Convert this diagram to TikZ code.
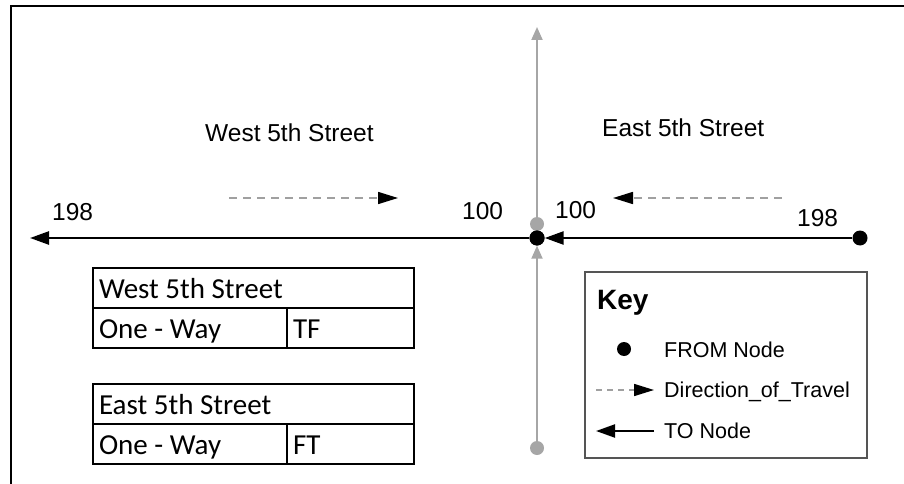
\documentclass[tikz,border=0pt]{standalone}
\usepackage{fontspec}
\setmainfont{Liberation Sans}
\newfontfamily\calfont{Carlito}
\usetikzlibrary{arrows.meta}
\definecolor{roadgray}{HTML}{A6A6A6}
\definecolor{keygray}{HTML}{555555}
\definecolor{dashgray}{HTML}{A0A0A0}
\begin{document}
\begin{tikzpicture}[x=1pt,y=-1pt,
  blackdot/.style={circle,fill=black,inner sep=0pt,minimum size=15pt},
  graydot/.style={circle,fill=roadgray,inner sep=0pt,minimum size=14pt},
  tonode/.style={line width=2.5pt,-{Triangle[length=19pt,width=13pt]}},
  grayarrow/.style={draw=roadgray,line width=2pt,-{Triangle[length=13pt,width=11pt,fill=roadgray]}},
  travel/.style={draw=dashgray,line width=1.6pt,dash pattern=on 8pt off 6pt,-{Triangle[length=20pt,width=12pt,fill=black,color=black]}},
  lbl/.style={anchor=base west,inner sep=0pt,font=\fontsize{24.5}{28}\selectfont},
  keytxt/.style={anchor=base west,inner sep=0pt,font=\fontsize{21.5}{25}\selectfont},
  cell/.style={draw,line width=2pt,anchor=north west,inner ysep=0pt,inner xsep=6pt,minimum height=40pt,
    text height=22pt,text depth=2pt,align=flush left,font=\calfont\fontsize{29}{32}\selectfont},
]
\useasboundingbox (0,0) rectangle (904,484);
% frame
\draw[line width=2pt] (11,484) -- (11,6) -- (904,6);

% vertical road
\node[graydot] (north) at (537,224) {};
\node[graydot] (south) at (537,448) {};
\coordinate (top) at (537,27);
\node[blackdot] (center) at (537,238) {};
\draw[grayarrow] (north) -- (top);
\draw[grayarrow] (south) -- (center);
\node[blackdot] (center2) at (537,238) {};

% horizontal road
\node[blackdot] (eastfrom) at (860,238) {};
\coordinate (westend) at (30,238);
\draw[tonode] (center2) -- (westend);
\draw[tonode] (eastfrom) -- (center2);

% direction of travel
\coordinate (dw1) at (229,198);
\coordinate (dw2) at (398,198);
\coordinate (de1) at (782,198);
\coordinate (de2) at (613,198);
\draw[travel] (dw1) -- (dw2);
\draw[travel] (de1) -- (de2);

% labels
\node[lbl] (wname) at (205,141) {West 5th Street};
\node[lbl] (ename) at (602,136) {East 5th Street};
\node[lbl] (w198) at (52,220) {198};
\node[lbl] (w100) at (462,219) {100};
\node[lbl] (e100) at (555,218) {100};
\node[lbl] (e198) at (797,226) {198};

% tables
\node[cell,text width=309pt] (wt1) at (92,267) {West 5th Street};
\node[cell,text width=182pt] (wt2) at (92,307) {One - Way};
\node[cell,text width=115pt] (wt3) at (286,307) {TF};
\node[cell,text width=309pt] (et1) at (92,383) {East 5th Street};
\node[cell,text width=182pt] (et2) at (92,423) {One - Way};
\node[cell,text width=115pt] (et3) at (286,423) {FT};

% key
\node[draw=keygray,line width=2pt,anchor=north west,minimum width=282pt,minimum height=186pt,inner sep=0pt] (key) at (584,271) {};
\node[anchor=base west,inner sep=0pt,font=\bfseries\fontsize{28}{32}\selectfont] (keytitle) at (597,309) {Key};
\node[blackdot,minimum size=14pt] (keydot) at (624,349) {};
\node[keytxt] (kfrom) at (664,357) {FROM Node};
\coordinate (kd1) at (596,390);
\coordinate (kd2) at (654,390);
\draw[travel,dash pattern=on 6pt off 5pt] (kd1) -- (kd2);
\node[keytxt] (kdir) at (664,397) {Direction\_of\_Travel};
\coordinate (kt1) at (654,431);
\coordinate (kt2) at (596,431);
\draw[tonode,line width=2.2pt] (kt1) -- (kt2);
\node[keytxt] (kto) at (664,438) {TO Node};
\end{tikzpicture}
\end{document}
